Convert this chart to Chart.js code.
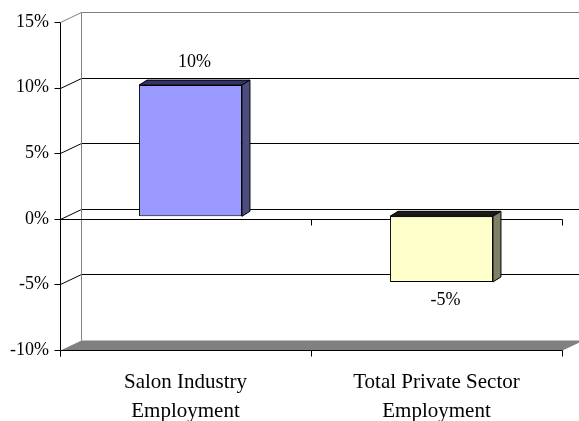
<!DOCTYPE html>
<html>
<head>
<meta charset="utf-8">
<script src="https://cdn.jsdelivr.net/npm/chart.js@4"></script>
<style>
  body { margin: 0; background: #fff; }
  #wrap { width: 579px; height: 421px; position: relative; }
</style>
</head>
<body>
<div id="wrap"><canvas id="salonChart"></canvas></div>
<script>
const categories = [['Salon Industry', 'Employment'], ['Total Private Sector', 'Employment']];
const changeValues = [10, -5];
const yMin = -10, yMax = 15, yStep = 5;

const frontColors = ['#9999FF', '#FFFFCC'];
const sideColors = ['#4d4d80', '#808066'];
const topColors = ['#333366', '#1a1a16'];

// fake 3D, excel style
const wall = { dx: 21, dy: -10 };
const barShift = { dx: 5, dy: -2.5 };
const barDepth = { dx: 8, dy: -5 };
const serif = 'Liberation Serif, Times New Roman, serif';

function line(ctx, pts, color) {
  ctx.beginPath();
  ctx.moveTo(pts[0][0], pts[0][1]);
  for (let i = 1; i < pts.length; i++) ctx.lineTo(pts[i][0], pts[i][1]);
  ctx.strokeStyle = color;
  ctx.lineWidth = 1;
  ctx.stroke();
}

const excel3d = {
  id: 'excel3d',
  beforeDatasetsDraw(chart) {
    const { ctx, chartArea: a, scales: { y } } = chart;
    const L = a.left + 0.5, R = a.right + 0.5, B = Math.round(a.bottom) + 0.5, T = Math.round(a.top) + 0.5;
    ctx.save();

    // floor
    ctx.beginPath();
    ctx.moveTo(L, B);
    ctx.lineTo(R, B);
    ctx.lineTo(R + wall.dx, B + wall.dy);
    ctx.lineTo(L + wall.dx, B + wall.dy);
    ctx.closePath();
    ctx.fillStyle = '#808080';
    ctx.fill();

    // back wall gridlines
    for (let v = yMin + yStep; v < yMax; v += yStep) {
      const py = Math.round(y.getPixelForValue(v)) + 0.5;
      line(ctx, [[L, py], [L + wall.dx, py + wall.dy], [chart.width, py + wall.dy]], '#000');
    }
    // wall edges
    line(ctx, [[L, T], [L + wall.dx, T + wall.dy], [chart.width, T + wall.dy]], '#808080');
    line(ctx, [[L + wall.dx, T + wall.dy], [L + wall.dx, B + wall.dy]], '#808080');

    // front zero line + category ticks
    const z = Math.round(y.getPixelForValue(0)) + 0.5;
    line(ctx, [[L, z], [R, z]], '#000');
    const n = categories.length;
    for (let i = 0; i <= n; i++) {
      const xb = Math.round(a.left + i * (a.right - a.left) / n) + 0.5;
      line(ctx, [[xb, z], [xb, z + 6]], '#000');
      line(ctx, [[xb, B], [xb, B + 6]], '#000');
    }
    line(ctx, [[L, B], [R, B]], '#000');

    // value axis
    line(ctx, [[L, T], [L, B + 6]], '#000');
    for (let v = yMin; v <= yMax; v += yStep) {
      const py = Math.round(y.getPixelForValue(v)) + 0.5;
      line(ctx, [[L - 6, py], [L, py]], '#000');
    }
    ctx.restore();

    ctx.save();
    ctx.translate(barShift.dx, barShift.dy);
  },
  afterDatasetsDraw(chart) {
    const { ctx } = chart;
    const bars = chart.getDatasetMeta(0).data;
    bars.forEach((bar, i) => {
      const left = bar.x - bar.width / 2, right = bar.x + bar.width / 2;
      const top = Math.min(bar.y, bar.base), bottom = Math.max(bar.y, bar.base);
      const { dx, dy } = barDepth;
      ctx.lineWidth = 1;
      ctx.strokeStyle = '#000';
      // top face
      ctx.beginPath();
      ctx.moveTo(left, top);
      ctx.lineTo(left + dx, top + dy);
      ctx.lineTo(right + dx, top + dy);
      ctx.lineTo(right, top);
      ctx.closePath();
      ctx.fillStyle = topColors[i];
      ctx.fill();
      ctx.stroke();
      // side face
      ctx.beginPath();
      ctx.moveTo(right, top);
      ctx.lineTo(right + dx, top + dy);
      ctx.lineTo(right + dx, bottom + dy);
      ctx.lineTo(right, bottom);
      ctx.closePath();
      ctx.fillStyle = sideColors[i];
      ctx.fill();
      ctx.stroke();

      // value label
      const v = changeValues[i];
      ctx.fillStyle = '#000';
      ctx.font = '18px ' + serif;
      ctx.textAlign = 'center';
      ctx.textBaseline = 'middle';
      const ly = v >= 0 ? top + dy - 18 : bottom + 18;
      ctx.fillText(v + '%', bar.x + dx / 2, ly);
    });
    ctx.restore();
  }
};

new Chart(document.getElementById('salonChart'), {
  type: 'bar',
  data: {
    labels: categories,
    datasets: [{
      data: changeValues,
      backgroundColor: frontColors,
      borderColor: '#000',
      borderWidth: 1,
      borderSkipped: false,
      barPercentage: 0.41,
      categoryPercentage: 1
    }]
  },
  options: {
    responsive: true,
    maintainAspectRatio: false,
    animation: false,
    layout: { padding: { top: 22, right: 17, left: 0, bottom: 0 } },
    plugins: { legend: { display: false }, tooltip: { enabled: false } },
    scales: {
      x: {
        offset: true,
        grid: { display: false, drawTicks: false },
        border: { display: false },
        ticks: { color: '#000', font: { family: serif, size: 21, lineHeight: '29px' }, padding: 18, maxRotation: 0 },
        afterFit(s) { s.height = 71; }
      },
      y: {
        min: yMin, max: yMax,
        grid: { display: false, drawTicks: false },
        border: { display: false },
        ticks: { stepSize: yStep, color: '#000', font: { family: serif, size: 18 }, padding: 11,
          callback: v => v + '%' },
        afterFit(s) { s.width = 60; }
      }
    }
  },
  plugins: [excel3d]
});
</script>
</body>
</html>
